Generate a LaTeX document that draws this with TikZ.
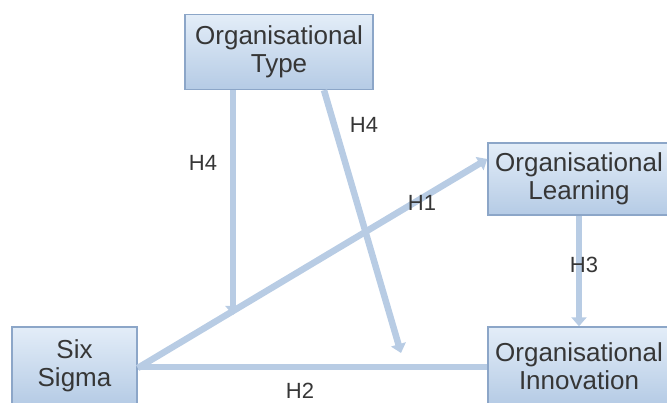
\documentclass[tikz,border=0pt]{standalone}
\usepackage{fontspec}
\setmainfont{Liberation Sans}
\usetikzlibrary{arrows.meta}
\definecolor{boxtop}{HTML}{E3EDF8}
\definecolor{boxbot}{HTML}{B5CBE5}
\definecolor{boxedge}{HTML}{8CA6C8}
\definecolor{arrowc}{HTML}{B8CCE4}
\definecolor{txt}{HTML}{363636}
\tikzset{
  concept/.style={draw=boxedge, line width=1.4pt, top color=boxtop, bottom color=boxbot,
    align=center, inner sep=0pt, text=txt,
    font=\fontsize{26}{28}\selectfont},
  link/.style={draw=arrowc, line width=6.5pt,
    -{Triangle[width=15pt,length=9pt,fill=arrowc]}},
  plain/.style={draw=arrowc, line width=6.5pt},
  hlabel/.style={text=txt, font=\fontsize{22}{24}\selectfont, inner sep=0pt}
}
\begin{document}
\begin{tikzpicture}[x=1pt,y=-1pt]
\useasboundingbox (0,0) rectangle (667,403);
\node[concept, minimum width=188pt, minimum height=75pt] (type) at (279,52) {Organisational\\Type};
\node[concept, minimum width=182pt, minimum height=72pt] (learn) at (579,179) {Organisational\\Learning};
\node[concept, minimum width=182pt, minimum height=78pt] (innov) at (579,366) {Organisational\\Innovation};
\node[concept, minimum width=125pt, minimum height=78pt] (six) at (74.5,366) {Six\\Sigma};

\coordinate (h1s) at ([yshift=-2pt]six.east);
\coordinate (h1e) at ([yshift=20pt]learn.west);
\draw[link] (h1s) -- (h1e);
\draw[plain] ([yshift=-1pt]six.east) -- ([yshift=-1pt]innov.west);
\draw[link] (learn.south) -- (innov.north);

\coordinate (t1) at ([xshift=-46pt]type.south);
\coordinate (m1) at (233,315);
\draw[link] (t1) -- (m1);
\coordinate (t2) at ([xshift=45pt]type.south);
\coordinate (m2) at (401,353);
\draw[link] (t2) -- (m2);

\node[hlabel] (l4a) at (203,163) {H4};
\node[hlabel] (l4b) at (364,125) {H4};
\node[hlabel] (l1) at (422,203) {H1};
\node[hlabel] (l3) at (584,265) {H3};
\node[hlabel] (l2) at (300,391) {H2};
\end{tikzpicture}
\end{document}
